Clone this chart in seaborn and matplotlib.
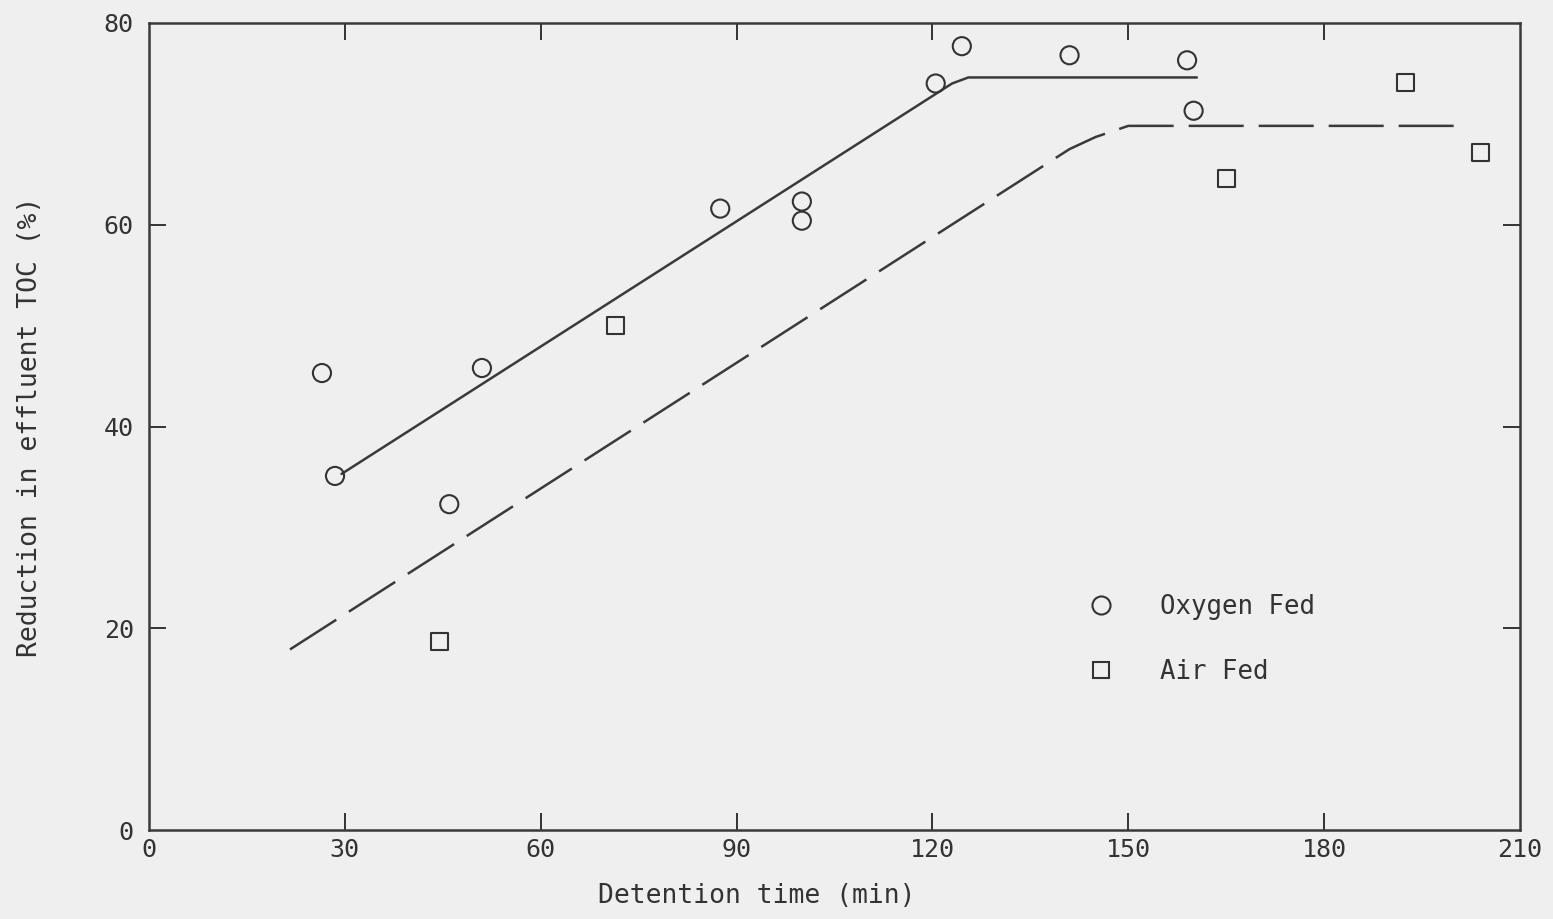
import matplotlib
matplotlib.use("Agg")
import matplotlib.pyplot as plt
from matplotlib.lines import Line2D
import seaborn as sns
import pandas as pd

# Measured TOC reduction
oxygen_time = [26.5, 28.5, 46.0, 51.0, 87.5, 100.0, 100.0, 120.5, 124.5, 141.0, 159.0, 160.0]
oxygen_reduction = [45.3, 35.1, 32.3, 45.8, 61.6, 62.3, 60.4, 74.0, 77.7, 76.8, 76.3, 71.3]

air_time = [44.5, 71.5, 165.0, 192.5, 204.0]
air_reduction = [18.7, 50.0, 64.6, 74.1, 67.2]

# Fitted trend curves
oxygen_fit_time = [29.5, 123.0, 125.5, 160.5]
oxygen_fit_reduction = [35.3, 74.0, 74.6, 74.6]

air_fit_time = [21.6, 141.0, 145.0, 150.0, 200.0]
air_fit_reduction = [17.9, 67.5, 68.7, 69.8, 69.8]

x_ticks = [0, 30, 60, 90, 120, 150, 180, 210]
y_ticks = [0, 20, 40, 60, 80]

BG = "#efefef"
INK = "#333333"
FONT = ["DejaVu Sans Mono", "DejaVu Sans"]

sns.set_theme(style="ticks")
plt.rcParams["font.family"] = FONT
plt.rcParams["text.color"] = INK
plt.rcParams["axes.labelcolor"] = INK
plt.rcParams["xtick.color"] = INK
plt.rcParams["ytick.color"] = INK

fig = plt.figure(figsize=(15.53, 9.19), dpi=100, facecolor=BG)
ax = fig.add_axes([0.0959, 0.0968, 0.8829, 0.8782])
ax.set_facecolor(BG)

ox_fit = pd.DataFrame({"t": oxygen_fit_time, "r": oxygen_fit_reduction})
air_fit = pd.DataFrame({"t": air_fit_time, "r": air_fit_reduction})
sns.lineplot(data=ox_fit, x="t", y="r", estimator=None, sort=False,
             color="#3a3a3a", linewidth=1.8, ax=ax)
sns.lineplot(data=air_fit, x="t", y="r", estimator=None, sort=False,
             color="#3a3a3a", linewidth=1.8, dashes=False, ax=ax)
ax.lines[-1].set_dashes((22, 6))

ox = pd.DataFrame({"t": oxygen_time, "r": oxygen_reduction})
air = pd.DataFrame({"t": air_time, "r": air_reduction})
sns.scatterplot(data=ox, x="t", y="r", marker="o", s=170, facecolor="none",
                edgecolor="#333333", linewidth=1.5, ax=ax, zorder=3)
sns.scatterplot(data=air, x="t", y="r", marker="s", s=150, facecolor="none",
                edgecolor="#333333", linewidth=1.5, ax=ax, zorder=3)

ax.set_xlim(0, 209.5)
ax.set_ylim(0, 80)

ax.set_xticks(x_ticks)
ax.set_xticklabels([str(v) for v in x_ticks])
ax.set_yticks(y_ticks)
ax.set_yticklabels([str(v) for v in y_ticks])

# Inner ticks on all four sides, skipping the corners
ax.tick_params(axis="both", direction="in", length=12, width=1.4,
               labelsize=18, top=True, right=True)
ax.tick_params(axis="x", pad=6)
ax.tick_params(axis="y", pad=11)
for i, tk in enumerate(ax.xaxis.get_major_ticks()):
    if x_ticks[i] in (0, 210):
        tk.tick1line.set_visible(False)
        tk.tick2line.set_visible(False)
for i, tk in enumerate(ax.yaxis.get_major_ticks()):
    if y_ticks[i] in (0, 80):
        tk.tick1line.set_visible(False)
        tk.tick2line.set_visible(False)

for side in ("top", "right", "bottom", "left"):
    ax.spines[side].set_visible(True)
    ax.spines[side].set_linewidth(1.8)
    ax.spines[side].set_color("#3a3a3a")

ax.set_xlabel("Detention time (min)", fontsize=19)
ax.set_ylabel("Reduction in effluent TOC (%)", fontsize=19)
ax.xaxis.set_label_coords(0.443, -0.066)
ax.yaxis.set_label_coords(-0.077, 0.5)

handles = [
    Line2D([], [], linestyle="none", marker="o", markersize=13,
           markerfacecolor="none", markeredgecolor="#333333", markeredgewidth=1.5),
    Line2D([], [], linestyle="none", marker="s", markersize=12,
           markerfacecolor="none", markeredgecolor="#333333", markeredgewidth=1.5),
]
ax.legend(handles, ["Oxygen Fed", "Air Fed"], loc="upper left",
          bbox_to_anchor=(0.685, 0.292), frameon=False, fontsize=18.5,
          handlelength=1.0, handletextpad=1.8, labelspacing=1.5,
          borderpad=0, borderaxespad=0)

fig.savefig("out.png", dpi=100, facecolor=BG)
